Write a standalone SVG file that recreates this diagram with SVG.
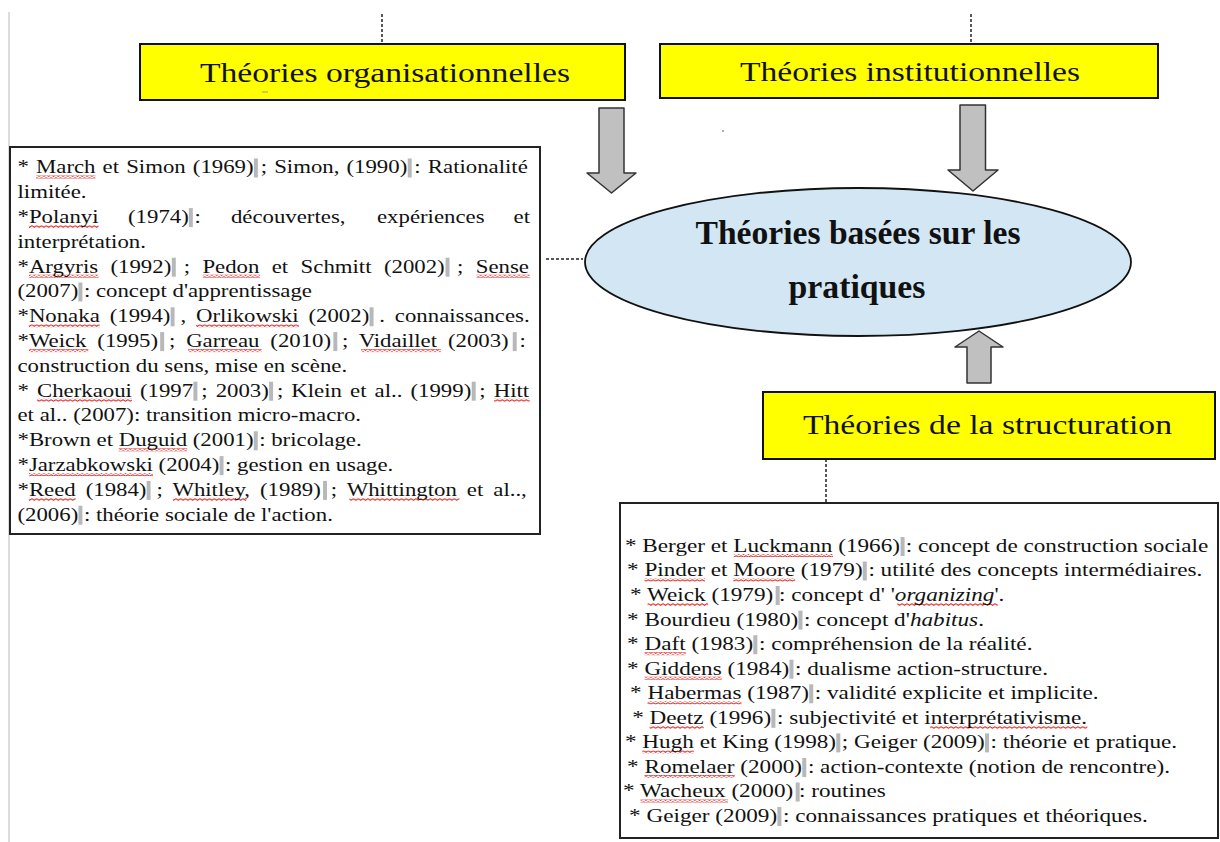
<svg xmlns="http://www.w3.org/2000/svg" width="1220" height="842" viewBox="0 0 1220 842">
<style>
.hdr{font-size:27px;fill:#111;}
.b{font-size:19px;fill:#111;}
.ctr{font-weight:bold;font-size:33px;fill:#111;}
.ybox{fill:#ffff00;stroke:#111;stroke-width:2;}
.tbox{fill:#fff;stroke:#222;stroke-width:2;}
.arrow{fill:#c0c0c0;stroke:#333;stroke-width:1.5;stroke-linejoin:round;}
.dash{stroke:#222;stroke-width:1.5;stroke-dasharray:3 2;fill:none;}
.it{font-style:italic;}
.bar{fill:#b8b8b8;}
.wv{fill:url(#wave);}
</style>
<defs>
  <pattern id="wave" patternUnits="userSpaceOnUse" width="4" height="3">
    <path d="M0,0.6 L2,2.4 L4,0.6" fill="none" stroke="#e0201c" stroke-width="0.9"/>
  </pattern>
</defs>
<rect width="1220" height="842" fill="#fff"/>
<line x1="9" y1="12" x2="9" y2="842" stroke="#d0d0d0" stroke-width="1.5"/>
<circle cx="723" cy="131" r="1" fill="#999"/>

<g id="connectors">
  <line class="dash" x1="382" y1="14" x2="382" y2="44"/>
  <line class="dash" x1="971" y1="14" x2="971" y2="44"/>
  <line class="dash" x1="546" y1="259" x2="583" y2="259"/>
  <line class="dash" x1="826" y1="459" x2="826" y2="503"/>
  <path class="arrow" d="M599,108 H624 V173 H636 L611.5,193 L587,173 H599 Z"/>
  <path class="arrow" d="M960,105 H985.5 V170 H998 L973,191 L948,170 H960 Z"/>
  <path class="arrow" d="M967,383 H991 V347 H1003 L979,331 L955,347 H967 Z"/>
</g>

<g id="node-org" font-family="'Liberation Serif','Times New Roman','DejaVu Serif',serif">
  <rect class="ybox" x="140" y="44" width="485" height="56"/>
  <text class="hdr" x="200" y="82" textLength="370" lengthAdjust="spacingAndGlyphs">Théories organisationnelles</text>
  <line x1="262" y1="92" x2="268" y2="92" stroke="#999" stroke-width="1"/>
</g>

<g id="node-inst" font-family="'Liberation Serif','Times New Roman','DejaVu Serif',serif">
  <rect class="ybox" x="660" y="44" width="498" height="54"/>
  <text class="hdr" x="740" y="81" textLength="340" lengthAdjust="spacingAndGlyphs">Théories institutionnelles</text>
</g>

<g id="node-center" font-family="'Liberation Serif','Times New Roman','DejaVu Serif',serif">
  <ellipse cx="858" cy="262" rx="273" ry="74" fill="#d2e6f3" stroke="#111" stroke-width="1.8"/>
  <text class="ctr" x="858" y="244" text-anchor="middle" textLength="325" lengthAdjust="spacingAndGlyphs">Théories basées sur les</text>
  <text class="ctr" x="857" y="298" text-anchor="middle" textLength="137" lengthAdjust="spacingAndGlyphs">pratiques</text>
</g>

<g id="node-struct" font-family="'Liberation Serif','Times New Roman','DejaVu Serif',serif">
  <rect class="ybox" x="763" y="392" width="452" height="67"/>
  <text class="hdr" x="803" y="434" textLength="369" lengthAdjust="spacingAndGlyphs">Théories de la structuration</text>
</g>

<g id="node-left" font-family="'Liberation Serif','Times New Roman','DejaVu Serif',serif">
  <rect class="tbox" x="10" y="147" width="530" height="387"/>
  <g transform="matrix(1.2 0 0 1 17.5 0)" class="b">
    <g>
      <rect class="bar" x="197" y="158.5" width="3.3" height="19"/>
      <rect class="bar" x="325.2" y="158.5" width="3.3" height="19"/>
      <rect class="bar" x="142.8" y="208.1" width="3.3" height="19"/>
      <rect class="bar" x="128.6" y="257.7" width="3.3" height="19"/>
      <rect class="bar" x="356.7" y="257.7" width="3.3" height="19"/>
      <rect class="bar" x="50.8" y="282.5" width="3.3" height="19"/>
      <rect class="bar" x="127.6" y="307.3" width="3.3" height="19"/>
      <rect class="bar" x="293.4" y="307.3" width="3.3" height="19"/>
      <rect class="bar" x="118.9" y="332.1" width="3.3" height="19"/>
      <rect class="bar" x="263.2" y="332.1" width="3.3" height="19"/>
      <rect class="bar" x="412.7" y="332.1" width="3.3" height="19"/>
      <rect class="bar" x="146.6" y="381.7" width="3.3" height="19"/>
      <rect class="bar" x="209.7" y="381.7" width="3.3" height="19"/>
      <rect class="bar" x="378.5" y="381.7" width="3.3" height="19"/>
      <rect class="bar" x="196.9" y="431.3" width="3.3" height="19"/>
      <rect class="bar" x="168.4" y="456.1" width="3.3" height="19"/>
      <rect class="bar" x="107.6" y="480.9" width="3.3" height="19"/>
      <rect class="bar" x="254.6" y="480.9" width="3.3" height="19"/>
      <rect class="bar" x="50.8" y="505.7" width="3.3" height="19"/>
    </g>
    <g>
      <rect class="wv" x="15.4" y="175.5" width="49.6" height="3"/>
      <rect class="wv" x="9.5" y="225.1" width="58.1" height="3"/>
      <rect class="wv" x="9.5" y="274.7" width="58" height="3"/>
      <rect class="wv" x="154.5" y="274.7" width="47.5" height="3"/>
      <rect class="wv" x="382.6" y="274.7" width="44.3" height="3"/>
      <rect class="wv" x="9.5" y="324.3" width="59.1" height="3"/>
      <rect class="wv" x="148.9" y="324.3" width="85.5" height="3"/>
      <rect class="wv" x="9.5" y="349.1" width="49.6" height="3"/>
      <rect class="wv" x="142.2" y="349.1" width="61.2" height="3"/>
      <rect class="wv" x="286.4" y="349.1" width="66.5" height="3"/>
      <rect class="wv" x="16.2" y="398.7" width="79.2" height="3"/>
      <rect class="wv" x="397.2" y="398.7" width="29.6" height="3"/>
      <rect class="wv" x="84.4" y="448.3" width="57" height="3"/>
      <rect class="wv" x="9.5" y="473.1" width="103.4" height="3"/>
      <rect class="wv" x="9.5" y="497.9" width="39" height="3"/>
      <rect class="wv" x="129.5" y="497.9" width="61.2" height="3"/>
      <rect class="wv" x="276.5" y="497.9" width="91.8" height="3"/>
    </g>
    <text x="0" y="173.5" word-spacing="1.2">* March et Simon (1969) ; Simon, (1990) : Rationalité</text>
    <text x="0" y="198.3">limitée.</text>
    <text y="223.1"><tspan x="0">*Polanyi</tspan><tspan x="92.1">(1974) :</tspan><tspan x="177.9">découvertes,</tspan><tspan x="299.6">expériences</tspan></text>
    <text x="427.1" y="223.1" text-anchor="end">et</text>
    <text x="0" y="247.9">interprétation.</text>
    <text x="0" y="272.7" word-spacing="5.6">*Argyris (1992) ; Pedon et Schmitt (2002) ; Sense</text>
    <text x="0" y="297.5">(2007) : concept d'apprentissage</text>
    <text x="0" y="322.3" word-spacing="3.55">*Nonaka (1994) , Orlikowski (2002) . connaissances.</text>
    <text x="0" y="347.1" word-spacing="4.3">*Weick (1995) ; Garreau (2010) ; Vidaillet (2003) :</text>
    <text x="0" y="371.9">construction du sens, mise en scène.</text>
    <text x="0" y="396.7" word-spacing="2">* Cherkaoui (1997 ; 2003) ; Klein et al.. (1999) ; Hitt</text>
    <text x="0" y="421.5">et al.. (2007): transition micro-macro.</text>
    <text x="0" y="446.3">*Brown et Duguid (2001) : bricolage.</text>
    <text x="0" y="471.1">*Jarzabkowski (2004) : gestion en usage.</text>
    <text x="0" y="495.9" word-spacing="3.6">*Reed (1984) ; Whitley, (1989) ; Whittington et al..,</text>
    <text x="0" y="520.7">(2006) : théorie sociale de l'action.</text>
  </g>
</g>

<g id="node-right" font-family="'Liberation Serif','Times New Roman','DejaVu Serif',serif">
  <rect class="tbox" x="620" y="503" width="598" height="335"/>
  <g transform="matrix(1.22 0 0 1 -10.4 0)" class="b">
    <g>
      <rect class="bar" x="746.7" y="537" width="3.3" height="19"/>
      <rect class="bar" x="715.7" y="561.5" width="3.3" height="19"/>
      <rect class="bar" x="644.3" y="586" width="3.3" height="19"/>
      <rect class="bar" x="663" y="610.6" width="3.3" height="19"/>
      <rect class="bar" x="626" y="635.2" width="3.3" height="19"/>
      <rect class="bar" x="655.6" y="659.7" width="3.3" height="19"/>
      <rect class="bar" x="671.8" y="684.3" width="3.3" height="19"/>
      <rect class="bar" x="640.8" y="708.8" width="3.3" height="19"/>
      <rect class="bar" x="694" y="733.4" width="3.3" height="19"/>
      <rect class="bar" x="815.9" y="733.4" width="3.3" height="19"/>
      <rect class="bar" x="666.1" y="758" width="3.3" height="19"/>
      <rect class="bar" x="660.7" y="782.5" width="3.3" height="19"/>
      <rect class="bar" x="645.7" y="807" width="3.3" height="19"/>
    </g>
    <g>
      <rect class="wv" x="610" y="554" width="81.3" height="3"/>
      <rect class="wv" x="536.8" y="578.5" width="49.6" height="3"/>
      <rect class="wv" x="609.6" y="578.5" width="50.7" height="3"/>
      <rect class="wv" x="539.3" y="603" width="49.6" height="3"/>
      <rect class="wv" x="744" y="603" width="82.3" height="3"/>
      <rect class="wv" x="536.8" y="652.2" width="33.8" height="3"/>
      <rect class="wv" x="536.8" y="676.7" width="63.3" height="3"/>
      <rect class="wv" x="539.3" y="701.3" width="77" height="3"/>
      <rect class="wv" x="541" y="725.8" width="44.3" height="3"/>
      <rect class="wv" x="771" y="725.8" width="128.8" height="3"/>
      <rect class="wv" x="535" y="750.4" width="42.2" height="3"/>
      <rect class="wv" x="536.8" y="775" width="73.9" height="3"/>
      <rect class="wv" x="533.5" y="799.5" width="71.7" height="3"/>
    </g>
    <text x="520.8" y="552">* Berger et Luckmann (1966) : concept de construction sociale</text>
    <text x="522.5" y="576.5">* Pinder et Moore (1979) : utilité des concepts intermédiaires.</text>
    <text x="525" y="601">* Weick (1979) : concept d' '<tspan class="it">organizing</tspan>'.</text>
    <text x="522.5" y="625.6">* Bourdieu (1980) : concept d'<tspan class="it">habitus</tspan>.</text>
    <text x="522.5" y="650.2">* Daft (1983) : compréhension de la réalité.</text>
    <text x="522.5" y="674.7">* Giddens (1984) : dualisme action-structure.</text>
    <text x="525" y="699.3">* Habermas (1987) : validité explicite et implicite.</text>
    <text x="526.7" y="723.8">* Deetz (1996) : subjectivité et interprétativisme.</text>
    <text x="520.8" y="748.4">* Hugh et King (1998) ; Geiger (2009) : théorie et pratique.</text>
    <text x="522.5" y="773">* Romelaer (2000) : action-contexte (notion de rencontre).</text>
    <text x="519.2" y="797.5">* Wacheux (2000) : routines</text>
    <text x="524.2" y="822">* Geiger (2009) : connaissances pratiques et théoriques.</text>
  </g>
</g>
</svg>
